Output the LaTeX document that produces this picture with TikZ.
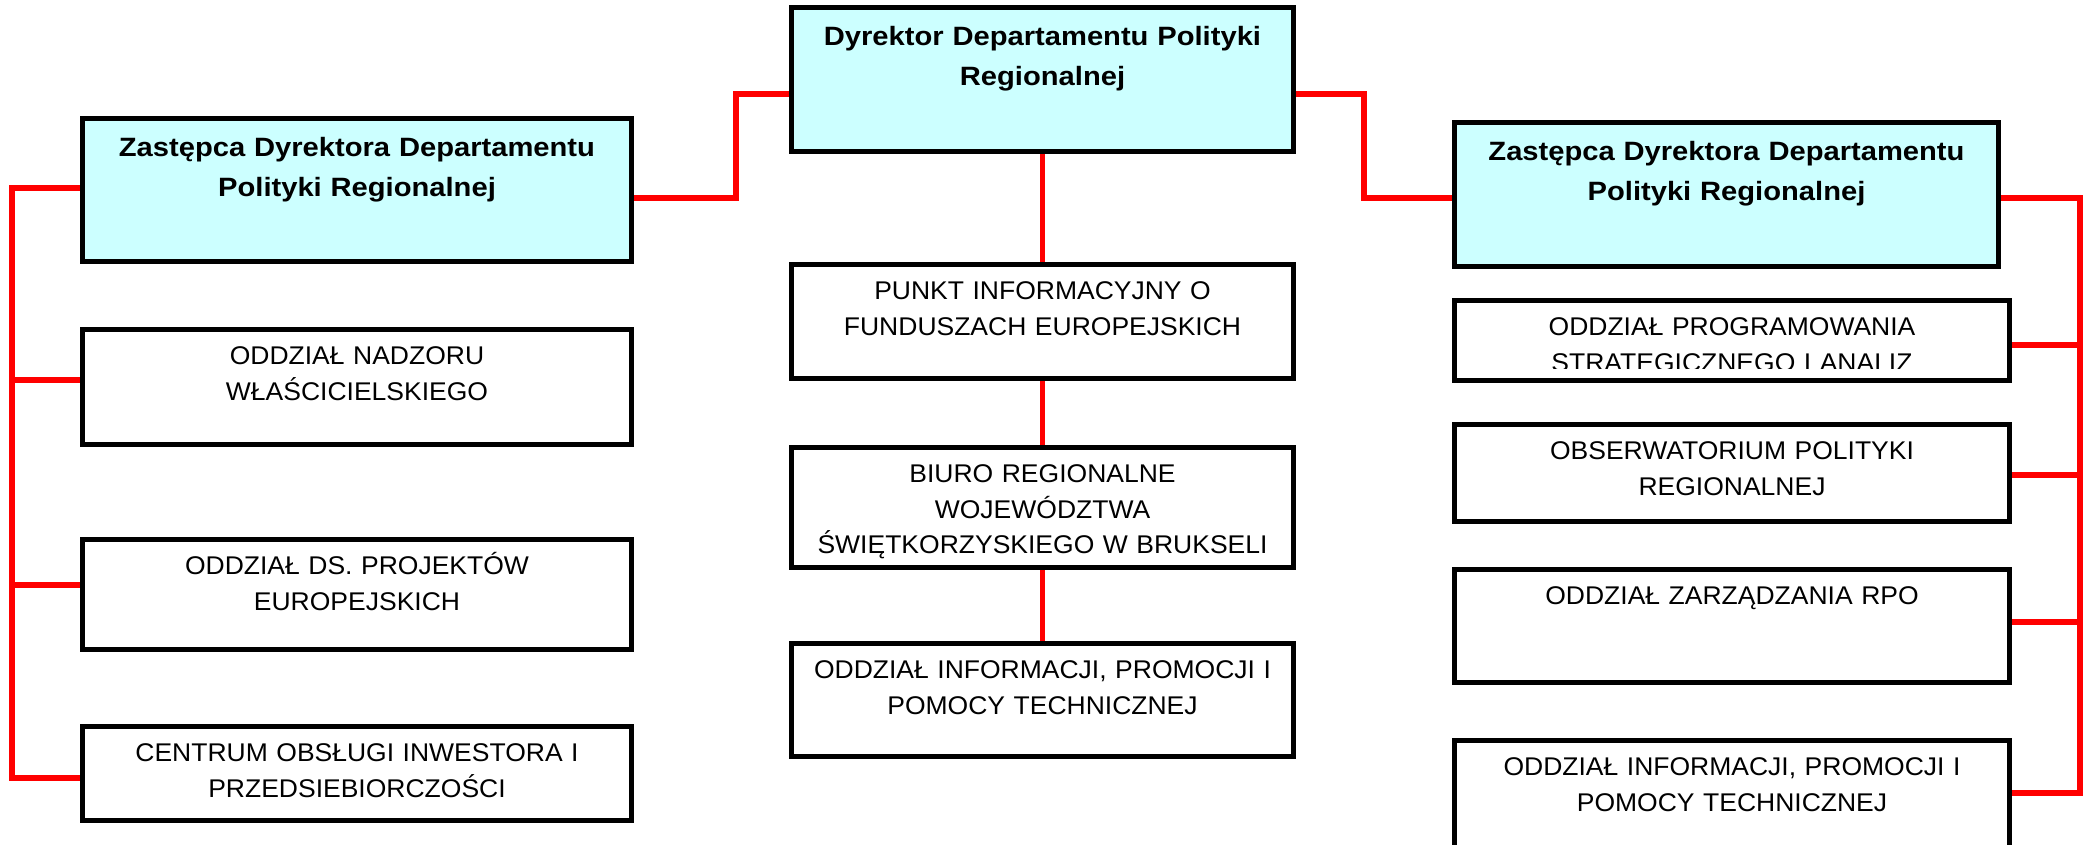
\documentclass[tikz,border=0pt]{standalone}
\usepackage{fontspec}
\newfontfamily\regfont{Liberation Sans}[FakeStretch=1.035]
\newfontfamily\headfont{Liberation Sans}[FakeStretch=1.1]
\usetikzlibrary{calc}
\definecolor{headfill}{HTML}{CCFFFF}
\definecolor{wirered}{HTML}{FF0000}
\tikzset{
  box/.style={draw=black, line width=2.4pt, fill=white, rectangle, inner sep=0pt, outer sep=0pt},
  headbox/.style={box, fill=headfill},
  txt/.style={anchor=base, inner sep=0pt, text width=300pt, align=center,
              font=\regfont\fontsize{12.8pt}{17.85pt}\selectfont},
  headtxt/.style={anchor=base, inner sep=0pt, text width=300pt, align=center,
              font=\headfont\bfseries\fontsize{13.25pt}{20pt}\selectfont},
  wire/.style={draw=wirered, line width=2.6pt, line join=miter}
}
\begin{document}
\begin{tikzpicture}[x=0.5pt, y=-0.5pt]
\useasboundingbox (0,0) rectangle (2092,845);
\clip (0,0) rectangle (2092,845);

% ---- boxes: left column
\node[headbox, minimum width=274.5pt, minimum height=71.5pt] (L0) at (357,190) {};
\node[box, minimum width=274.5pt, minimum height=57.5pt] (L1) at (357,387) {};
\node[box, minimum width=274.5pt, minimum height=55pt] (L2) at (357,594.5) {};
\node[box, minimum width=274.5pt, minimum height=47pt] (L3) at (357,773.5) {};
% ---- boxes: centre column
\node[headbox, minimum width=251pt, minimum height=72pt] (C0) at (1042.5,79.5) {};
\node[box, minimum width=251pt, minimum height=57pt] (C1) at (1042.5,321.5) {};
\node[box, minimum width=251pt, minimum height=60pt] (C2) at (1042.5,507.5) {};
\node[box, minimum width=251pt, minimum height=56.5pt] (C3) at (1042.5,700) {};
% ---- boxes: right column
\node[headbox, minimum width=272pt, minimum height=72pt] (R0) at (1726.5,194.5) {};
\node[box, minimum width=277.5pt, minimum height=40pt] (R1) at (1732,340.5) {};
\node[box, minimum width=277.5pt, minimum height=48.5pt] (R2) at (1732,473) {};
\node[box, minimum width=277.5pt, minimum height=56.5pt] (R3) at (1732,626) {};
\node[box, minimum width=277.5pt, minimum height=56pt] (R4) at (1732,796.5) {};

% ---- connectors: bus lines and bends
\coordinate (lbus) at (12,0);
\coordinate (rbus) at (2080,0);
\coordinate (cl) at (736,0);
\coordinate (cr) at (1364,0);

\draw[wire] (C0.west |- 0,94) -- (cl |- 0,94) -- (cl |- 0,198) -- (L0.east |- 0,198);
\draw[wire] (C0.east |- 0,94) -- (cr |- 0,94) -- (cr |- 0,198) -- (R0.west |- 0,198);
\draw[wire] (C0.south) -- (C1.north);
\draw[wire] (C1.south) -- (C2.north);
\draw[wire] (C2.south) -- (C3.north);

\draw[wire] (L0.west |- 0,188) -- (lbus |- 0,188) -- (lbus |- 0,778) -- (L3.west |- 0,778);
\draw[wire] (L1.west |- 0,380) -- (lbus |- 0,380);
\draw[wire] (L2.west |- 0,585) -- (lbus |- 0,585);

\draw[wire] (R0.east |- 0,198) -- (rbus |- 0,198) -- (rbus |- 0,793) -- (R4.east |- 0,793);
\draw[wire] (R1.east |- 0,345) -- (rbus |- 0,345);
\draw[wire] (R2.east |- 0,475) -- (rbus |- 0,475);
\draw[wire] (R3.east |- 0,622) -- (rbus |- 0,622);

% redraw box outlines over the wire ends
\foreach \b in {L0,L1,L2,L3,C0,C1,C2,C3,R0,R1,R2,R3,R4}{
  \draw[line width=2.4pt] (\b.north west) rectangle (\b.south east);
}

% ---- texts
\node[headtxt] (L0t) at ($(L0.north)+(0,38.2)$) {Zastępca Dyrektora Departamentu\\Polityki Regionalnej};
\node[txt] (L1t) at ($(L1.north)+(0,35)$) {ODDZIAŁ NADZORU\\WŁAŚCICIELSKIEGO};
\node[txt] (L2t) at ($(L2.north)+(0,35)$) {ODDZIAŁ DS. PROJEKTÓW\\EUROPEJSKICH};
\node[txt] (L3t) at ($(L3.north)+(0,35)$) {CENTRUM OBSŁUGI INWESTORA I\\PRZEDSIEBIORCZOŚCI};

\node[headtxt] (C0t) at ($(C0.north)+(0,38.2)$) {Dyrektor Departamentu Polityki\\Regionalnej};
\node[txt] (C1t) at ($(C1.north)+(0,35)$) {PUNKT INFORMACYJNY O\\FUNDUSZACH EUROPEJSKICH};
\node[txt] (C2t) at ($(C2.north)+(0,35)$) {BIURO REGIONALNE\\WOJEWÓDZTWA\\ŚWIĘTKORZYSKIEGO W BRUKSELI};
\node[txt] (C3t) at ($(C3.north)+(0,35)$) {ODDZIAŁ INFORMACJI, PROMOCJI I\\POMOCY TECHNICZNEJ};

\node[headtxt] (R0t) at ($(R0.north)+(0,38.2)$) {Zastępca Dyrektora Departamentu\\Polityki Regionalnej};
\begin{scope}
  % the second line of this box is cut off by the frame
  \clip (1452,298) rectangle (2012,368);
  \node[txt] (R1t) at ($(R1.north)+(0,35)$) {ODDZIAŁ PROGRAMOWANIA\\STRATEGICZNEGO I ANALIZ};
\end{scope}
\node[txt] (R2t) at ($(R2.north)+(0,35)$) {OBSERWATORIUM POLITYKI\\REGIONALNEJ};
\node[txt] (R3t) at ($(R3.north)+(0,35)$) {ODDZIAŁ ZARZĄDZANIA RPO};
\node[txt] (R4t) at ($(R4.north)+(0,35)$) {ODDZIAŁ INFORMACJI, PROMOCJI I\\POMOCY TECHNICZNEJ};
\end{tikzpicture}
\end{document}
